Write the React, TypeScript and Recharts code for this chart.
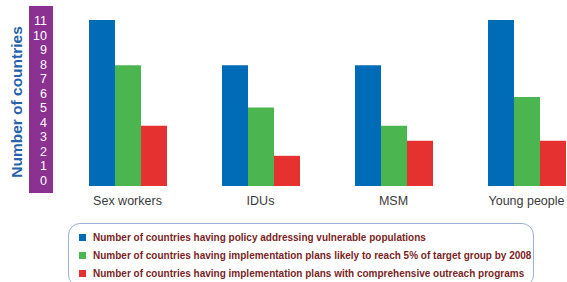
import { BarChart, Bar, XAxis, YAxis, Legend } from "recharts";

const groups = ["Sex workers", "IDUs", "MSM", "Young people"];
const policy = [11, 8, 8, 11];
const plans5pct = [8, 5.2, 4, 5.9];
const outreach = [4, 2, 3, 3];
const yTicks = [0, 1, 2, 3, 4, 5, 6, 7, 8, 9, 10, 11];

const seriesNames = [
  "Number of countries having policy addressing vulnerable populations",
  "Number of countries having implementation plans likely to reach 5% of target group by 2008",
  "Number of countries having implementation plans with comprehensive outreach programs",
];
const seriesColors = ["#006bb6", "#4bb64f", "#e63131"];

const data = groups.map((g, i) => ({
  group: g,
  policy: policy[i],
  plans: plans5pct[i],
  outreach: outreach[i],
}));

// tick labels sit in the purple strip, slightly tighter than the bar scale
function StripTick(props: any) {
  const { x, y, payload } = props;
  const top = 20;
  const ty = top + 1 + (y - top) * (160 / 166);
  return (
    <text
      x={x}
      y={ty}
      textAnchor="end"
      dominantBaseline="central"
      fill="#ffffff"
      fontSize={12.5}
      fontFamily="'Liberation Sans', Arial, sans-serif"
    >
      {payload.value}
    </text>
  );
}

function LegendBox() {
  return (
    <div
      style={{
        boxSizing: "border-box",
        width: 466,
        height: 64,
        border: "1px solid #9db0d6",
        borderRadius: 12,
        padding: "5px 0 0 10px",
      }}
    >
      {seriesNames.map((name, i) => (
        <div
          key={name}
          style={{
            display: "flex",
            alignItems: "center",
            height: 17.7,
            fontFamily: "'Liberation Sans', Arial, sans-serif",
            fontSize: 10,
            fontWeight: 700,
            color: "#7a1f1f",
            whiteSpace: "nowrap",
          }}
        >
          <span
            style={{
              display: "inline-block",
              width: 7,
              height: 7,
              background: seriesColors[i],
              marginRight: 7,
            }}
          />
          {name}
        </div>
      ))}
    </div>
  );
}

function YLabel() {
  return (
    <text
      x={16}
      y={102}
      transform="rotate(-90 16 102)"
      textAnchor="middle"
      dominantBaseline="central"
      fill="#2762ad"
      fontSize={15.5}
      fontWeight={700}
      fontFamily="'Liberation Sans', Arial, sans-serif"
    >
      Number of countries
    </text>
  );
}

export default function App() {
  return (
    <div
      style={{
        position: "absolute",
        left: 0,
        top: 0,
        width: 567,
        height: 282,
        overflow: "hidden",
        background: "#fff",
      }}
    >
      <div
        style={{
          position: "absolute",
          left: 29,
          top: 6,
          width: 24,
          height: 187,
          background: "#8a3192",
        }}
      />
      <div style={{ position: "absolute", left: 0, top: 0 }}>
        <BarChart
          width={600}
          height={282}
          data={data}
          barGap={0}
          margin={{ top: 20, right: 7, bottom: 66, left: 0 }}
        >
          <XAxis
            dataKey="group"
            axisLine={false}
            tickLine={false}
            tickSize={0}
            tickMargin={10}
            height={30}
            interval={0}
            tick={{
              fill: "#3a3a3a",
              fontSize: 12.5,
              fontFamily: "'Liberation Sans', Arial, sans-serif",
            }}
          />
          <YAxis
            width={61}
            domain={[0, 11]}
            ticks={yTicks}
            interval={0}
            axisLine={false}
            tickLine={false}
            tickSize={0}
            tickMargin={14}
            tick={<StripTick />}
            label={<YLabel />}
          />
          <Legend
            layout="vertical"
            align="center"
            verticalAlign="middle"
            content={<LegendBox />}
            wrapperStyle={{ left: 68, top: 223, width: 466 }}
          />
          <Bar dataKey="policy" name={seriesNames[0]} fill={seriesColors[0]} barSize={26} isAnimationActive={false} />
          <Bar dataKey="plans" name={seriesNames[1]} fill={seriesColors[1]} barSize={26} isAnimationActive={false} />
          <Bar dataKey="outreach" name={seriesNames[2]} fill={seriesColors[2]} barSize={26} isAnimationActive={false} />
        </BarChart>
      </div>
    </div>
  );
}
